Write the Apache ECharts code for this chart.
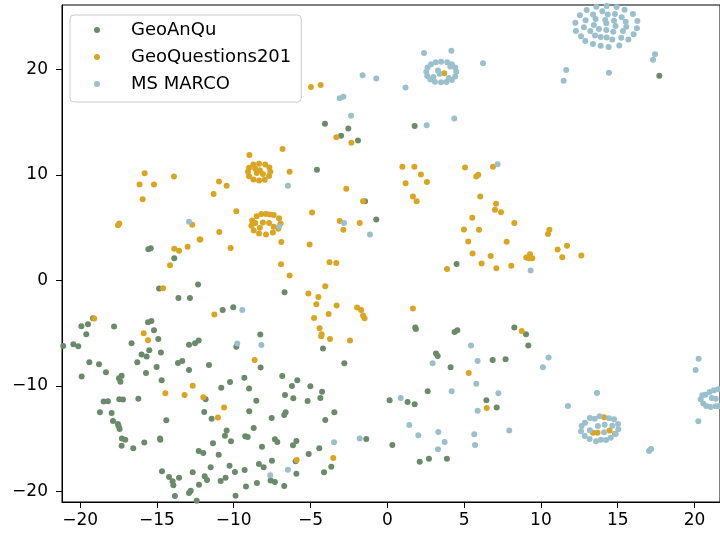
<!DOCTYPE html>
<html><head><meta charset="utf-8">
<script src="https://cdn.jsdelivr.net/npm/echarts@6/dist/echarts.min.js"></script>
<style>html,body{margin:0;padding:0;background:#fff}#c{width:720px;height:535px}</style>
</head><body><div id="c"></div>
<script>
const seriesNames = ['GeoAnQu', 'GeoQuestions201', 'MS MARCO'];
const xTicks = [-20, -15, -10, -5, 0, 5, 10, 15, 20];
const yTicks = [-20, -10, 0, 10, 20];

const geoAnQu = [
[-4.58,10.49],[-1.45,7.52],[-0.72,5.79],[-4.06,14.86],[-2.54,14.42],[-3.01,13.72],[-1.91,13.28],[1.78,14.64],[4.51,1.57],[1.82,-4.46],[1.86,-4.6],[4.38,-4.88],[4.56,-4.72],[-6.69,-1.11],
[17.71,19.42],
[-15.56,2.97],[-15.4,3.06],[-13.87,2.12],[-12.32,-0.38],[-14.86,-0.76],[-13.6,-1.65],[-12.85,-1.65],[-10.72,-2.79],[-10.03,-2.53],[-19.16,-3.58],[-19.92,-4.34],[-19.49,-4.15],[-17.79,-4.37],[-15.58,-3.96],[-15.36,-3.83],[-15.19,-4.72],[-19.6,-5.1],[-8.27,-5.12],
[8.27,-4.46],[9.03,-5.1],[9.18,-6.17],[7.7,-7.47],
[-4.19,-6.45],[-2.8,-7.85],[-6.84,-9.05],[-6.21,-10.0],[-5.86,-9.46],[-5.01,-10.03],[-4.25,-10.54],[-6.66,-10.85],[-6.12,-11.17],[-5.19,-11.42],[-4.36,-11.14],[-6.62,-12.5],[-6.71,-12.75],[-3.45,-12.5],[-4.04,-13.22],[-5.92,-15.22],[-6.14,-15.63],[-4.43,-15.91],[-5.12,-16.45],[-5.97,-17.14],[-5.92,-18.31],[-3.65,-17.65],[-4.12,-18.19],[-6.71,-19.49],[-1.37,-15.03],[0.33,-15.6],[0.15,-11.36],[1.32,-11.52],[1.78,-11.74],[2.63,-10.5],[3.17,-6.93],[3.28,-7.15],[4.12,-8.23],[6.86,-7.53],[6.45,-11.36],[7.12,-12.05],[2.11,-17.18],[2.71,-16.89],[3.88,-16.89],
[-21.1,-6.2],[-20.44,-6.04],[-20.12,-6.23],[-16.65,-5.95],[-14.91,-5.54],[-9.83,-6.27],[-12.91,-6.08],[-12.52,-5.95],[-12.28,-5.7],[-15.5,-6.61],[-16.0,-7.02],[-15.67,-7.21],[-14.74,-6.83],[-8.25,-8.26],[-19.4,-7.75],[-18.77,-7.94],[-16.28,-7.75],[-15.02,-8.19],[-13.63,-7.81],[-13.35,-7.63],[-12.91,-8.48],[-11.61,-8.0],[-19.9,-9.11],[-18.32,-8.7],[-17.47,-9.27],[-17.3,-9.02],[-17.38,-9.59],[-15.71,-8.76],[-14.69,-9.46],[-10.81,-10.16],[-10.24,-9.62],[-9.31,-9.21],[-9.0,-10.25],[-11.83,-11.26],[-18.47,-11.48],[-18.19,-11.45],[-17.45,-11.26],[-17.21,-11.29],[-16.21,-11.2],[-8.53,-11.39],[-11.92,-12.46],[-11.44,-13.1],[-8.99,-12.4],[-7.53,-13.03],[-18.71,-12.5],[-17.95,-12.56],[-17.86,-13.32],[-17.54,-13.6],[-17.43,-14.08],[-17.49,-13.82],[-14.39,-13.25],[-10.46,-14.23],[-10.57,-14.71],[-9.25,-14.77],[-9.09,-14.84],[-10.18,-15.25],[-8.7,-13.98],[-7.32,-15.06],[-7.16,-15.31],[-8.16,-15.75],[-17.28,-14.99],[-17.06,-15.09],[-17.3,-15.66],[-16.54,-15.91],[-15.82,-15.37],[-14.8,-14.99],[-14.78,-15.09],[-11.35,-15.44],[-12.28,-16.16],[-11.98,-16.35],[-10.98,-16.51],[-7.51,-17.08],[-11.5,-17.71],[-10.27,-17.56],[-9.92,-18.16],[-9.29,-17.97],[-8.36,-17.4],[-8.05,-17.71],[-7.6,-18.95],[-7.32,-19.11],[-8.49,-19.2],[-9.2,-19.52],[-9.88,-20.4],[-14.67,-18.09],[-14.21,-18.63],[-13.98,-19.04],[-13.93,-19.42],[-13.56,-18.69],[-13.83,-20.43],[-12.67,-18.19],[-11.89,-18.57],[-11.74,-18.92],[-12.26,-19.36],[-10.85,-19.01],[-10.53,-18.69],[-12.8,-19.93],[-12.91,-20.15],[-12.41,-20.88]
];

const geoQuestions201 = [
[-8.98,11.89],[-6.82,12.46],
[-8.35,11.08],[-7.95,11.0],[-7.68,10.72],[-7.62,10.3],[-7.7,9.9],[-7.98,9.55],[-8.35,9.48],[-8.72,9.58],[-9.0,9.88],[-9.07,10.3],[-9.0,10.7],[-8.72,11.0],[-8.3,10.45],[-8.5,10.2],[-8.1,10.1],[-8.6,10.6],
[-6.36,10.3],[-10.96,9.39],[-10.46,8.98],[-11.31,8.19],[-9.83,6.57],[-4.9,6.45],
[-7.9,6.3],[-7.4,6.2],[-7.05,5.9],[-6.95,5.4],[-7.1,4.9],[-7.45,4.55],[-7.9,4.35],[-8.35,4.45],[-8.7,4.75],[-8.85,5.2],[-8.8,5.7],[-8.5,6.1],[-8.1,5.5],[-7.7,5.45],[-7.4,5.1],[-8.3,5.0],[-8.6,5.45],[-7.65,6.25],[-8.2,6.3],
[-10.94,4.61],[-12.17,3.89],[-6.9,3.66],[-10.2,3.09],[-5.06,3.42],
[-15.8,10.18],[-13.89,9.87],[-16.13,9.11],[-15.19,9.11],[-15.93,7.71],[-17.53,5.25],[-17.45,5.4],[-12.7,5.28],[-12.22,3.89],[-13.87,3.0],[-13.56,2.81],[-13.0,3.19],[-14.15,1.45],[-6.92,1.55],[-14.6,-0.73],[-11.26,-3.23],[-19.08,-3.61],[-15.86,-5.0],
[-2.67,8.69],[-1.58,7.52],[-3.1,5.65],[-2.86,4.8],[-1.8,5.44],[-3.76,1.74],[-3.32,1.67],[-6.36,0.47],[-4.04,-0.54],[-5.14,-1.23],[-4.49,-1.56],[-4.62,-2.25],[-3.3,-2.37],[-1.97,-2.56],[-1.71,-2.79],[-1.58,-3.32],[-1.48,-3.58],[-4.77,-3.55],[-3.82,-3.17],[-4.41,-4.53],[-4.28,-5.1],[1.67,-2.66],[2.19,10.06],[1.19,9.23],[2.58,9.35],[1.67,7.97],[1.91,7.52],[5.79,9.87],[5.92,10.02],[6.05,7.97],[7.08,7.27],[7.01,6.7],[7.4,6.48],[5.53,5.94],[4.99,4.84],[5.97,4.8],[5.27,3.7],[5.55,2.56],[6.73,2.33],[6.14,1.61],[7.1,1.17],[3.89,1.1],
[0.98,10.78],[1.76,10.78],[5.06,10.72],[6.88,10.78],[-4.97,18.34],[-4.34,18.53],[-3.32,13.57],[-2.34,13.06],[3.71,19.64],
[8.27,5.44],[10.55,4.8],[10.46,4.42],[7.77,3.67],[9.29,2.49],[9.05,2.18],[9.44,2.12],[9.22,2.12],[11.09,2.94],[11.7,3.29],[11.39,2.21],[12.63,2.37],[8.07,1.39],[8.75,-4.78],
[14.11,-12.97],[13.39,-14.43],[13.69,-14.43],[14.47,-14.23],[14.82,-14.52],
[-4.3,-5.28],[-3.73,-5.54],[-2.43,-5.7],[-5.9,-17.02],[-3.52,-16.83],[5.3,-8.76],[6.47,-12.08],
[-15.58,-5.66],[-8.64,-7.53],[-12.67,-9.99],[-14.45,-10.69],[-13.2,-10.85],[-11.98,-11.07],[-10.63,-12.05],[-11.03,-13.0]
];

const msMarco = [
[-6.47,8.98],[-7.05,5.12],[-12.91,5.56],[-9.44,-2.79],[-2.82,5.44],[-1.13,4.36],[7.18,11.03],[-3.1,17.27],[-2.86,17.42],[-1.61,19.45],[-0.72,19.16],[-2.36,15.62],[1.19,18.31],[2.39,21.57],[4.17,21.78],[6.23,20.59],
[3.5,20.74],[3.9,20.7],[4.2,20.5],[4.42,20.2],[4.49,19.8],[4.42,19.35],[4.2,19.0],[3.85,18.82],[3.5,18.79],[3.1,18.85],[2.8,19.05],[2.6,19.4],[2.54,19.8],[2.62,20.2],[2.85,20.5],[3.15,20.7],[3.4,19.6],[3.3,19.9],[4.0,19.2],[3.0,19.3],[4.1,20.3],
[2.56,14.73],[4.36,15.37],
[12.98,25.65],[13.61,25.96],[14.28,26.03],[14.93,25.93],[15.45,25.68],[12.54,25.14],[13.39,25.23],[14.0,25.52],[14.35,25.23],[14.82,25.27],[15.26,24.95],[15.99,25.27],[12.24,24.44],[12.91,24.67],[13.56,24.79],[14.19,24.7],[14.76,24.63],[15.52,24.54],[16.28,24.6],[12.8,24.0],[13.45,24.22],[13.78,23.84],[14.26,24.38],[14.86,24.13],[15.56,24.06],[12.28,23.65],[13.22,23.65],[14.26,23.75],[14.71,23.59],[15.34,23.65],[16.25,23.91],[12.61,23.15],[13.52,23.24],[13.89,23.08],[14.28,23.05],[14.65,22.86],[15.23,23.02],[15.69,22.86],[16.04,23.34],[12.89,22.7],[13.39,22.42],[13.89,22.26],[14.41,22.14],[15.1,22.29],
[17.43,21.44],[17.3,20.93],[11.65,19.95],[11.48,18.94],[14.43,19.7],
[9.33,0.95],[10.5,-7.31],[10.13,-8.23],[13.65,-10.66],[11.76,-11.9],[7.94,-14.23],[17.04,-16.16],[17.17,-15.97],[20.27,-7.43],[20.07,-8.48],[20.25,-13.35],
[13.19,-13.03],[12.87,-13.48],[12.65,-13.79],[12.61,-14.3],[12.85,-14.74],[13.17,-15.03],[13.59,-15.25],[13.91,-15.09],[14.24,-15.12],[14.54,-14.9],[14.87,-14.55],[15.04,-14.11],[15.02,-13.6],[14.76,-13.16],[14.43,-13.06],[13.82,-12.87],[13.5,-13.1],[13.71,-13.79],[14.15,-13.67],[14.65,-13.76],[14.11,-14.39],[13.19,-14.2],
[20.51,-10.88],[20.4,-11.26],[20.57,-11.67],[20.77,-11.9],[21.05,-11.99],[21.38,-11.93],[21.59,-11.9],[20.72,-10.82],[20.99,-10.57],[21.27,-10.41],[21.55,-10.31],[21.12,-11.14],[21.38,-11.2],
[-3.47,-15.34],[-6.47,-17.94],[-1.8,-14.99],[0.87,-11.14],[4.19,-10.5],[2.95,-7.85],[5.45,-6.17],[5.88,-7.63],[5.79,-9.78],[7.23,-10.69],[5.88,-12.34],[1.43,-13.7],[2.02,-14.68],[3.32,-14.36],[3.73,-15.31],[3.3,-16.01],[5.66,-14.58],[5.71,-15.6],
[-9.77,-5.98],[-8.2,-6.11],[-7.62,-18.47]
];

const colors = ['#698B69', '#DAA520', '#9AC0CD'];
const allData = [geoAnQu, geoQuestions201, msMarco];
const FONT = 'DejaVu Sans';

const chart = echarts.init(document.getElementById('c'), null, {renderer: 'canvas'});
chart.setOption({
  animation: false,
  backgroundColor: '#fff',
  grid: {left: 62, top: 5, right: 0, bottom: 33, show: true, borderColor: '#000', borderWidth: 1, backgroundColor: 'transparent'},
  xAxis: {
    type: 'value', min: -21.18, max: 21.66,
    splitLine: {show: false},
    axisLine: {show: true, onZero: false, lineStyle: {color: '#000', width: 1}},
    axisTick: {show: true, inside: false, length: 6, lineStyle: {color: '#000', width: 1}, customValues: xTicks},
    axisLabel: {color: '#000', fontSize: 17, fontFamily: FONT, margin: 10, customValues: xTicks,
      formatter: v => (v < 0 ? '\u2212' + Math.abs(v) : String(v))}
  },
  yAxis: {
    type: 'value', min: -21.0, max: 26.12,
    splitLine: {show: false},
    axisLine: {show: true, onZero: false, lineStyle: {color: '#000', width: 1}},
    axisTick: {show: true, inside: false, length: 6, lineStyle: {color: '#000', width: 1}, customValues: yTicks},
    axisLabel: {color: '#000', fontSize: 17, fontFamily: FONT, margin: 14, customValues: yTicks,
      formatter: v => (v < 0 ? '\u2212' + Math.abs(v) : String(v))}
  },
  legend: {
    orient: 'vertical', left: 70, top: 15,
    padding: [5, 10, 8, 24],
    itemWidth: 6, itemHeight: 6, itemGap: 7,
    backgroundColor: 'rgba(255,255,255,0.85)',
    borderColor: '#cccccc', borderWidth: 1, borderRadius: 4,
    textStyle: {fontSize: 18, fontFamily: FONT, color: '#000', lineHeight: 20, padding: [0, 0, 0, 26]},
    data: seriesNames.map(n => ({name: n, icon: 'circle'}))
  },
  series: seriesNames.map((n, i) => ({
    name: n, type: 'scatter', data: allData[i],
    symbol: 'circle', symbolSize: 6,
    itemStyle: {color: colors[i], opacity: 1},
    emphasis: {disabled: true},
    z: 2 + i
  }))
});
</script>
</body></html>
